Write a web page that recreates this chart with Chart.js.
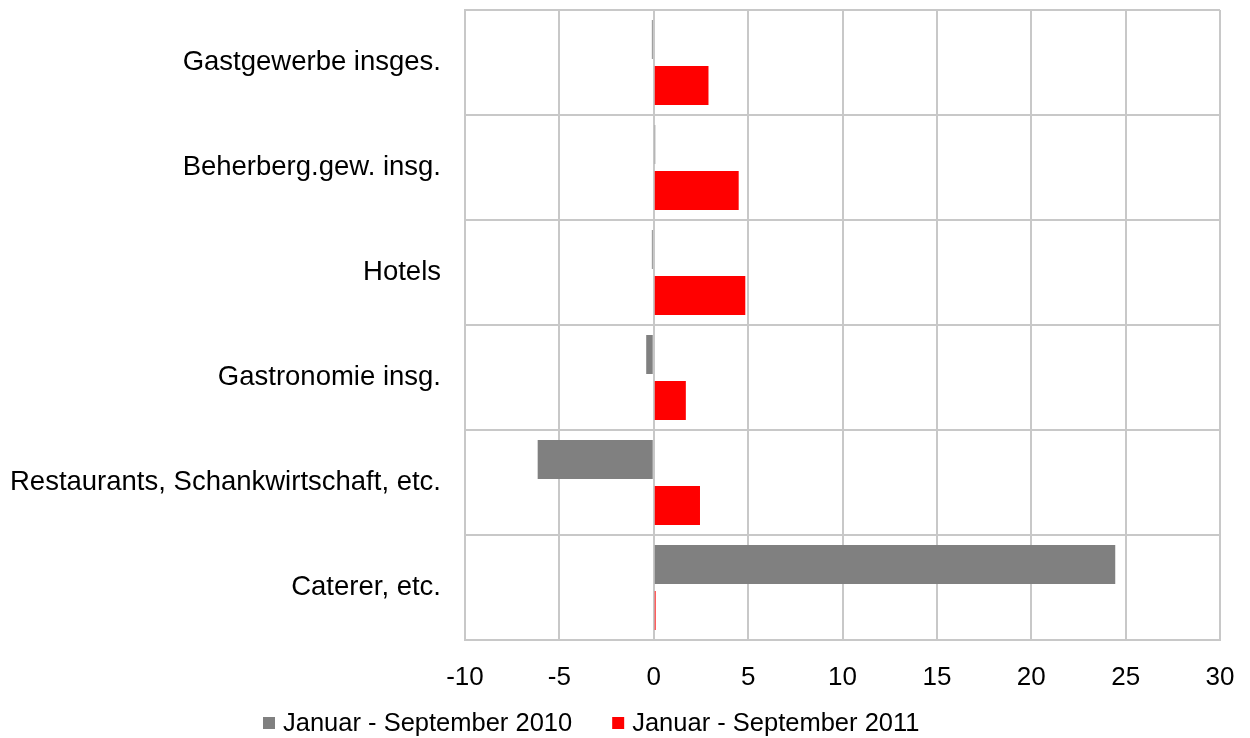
<!DOCTYPE html>
<html>
<head>
<meta charset="utf-8">
<script src="https://cdn.jsdelivr.net/npm/chart.js@4"></script>
<style>
    html, body { margin: 0; padding: 0; background: #fff; }
    #wrap { width: 1250px; height: 738px; }
</style>
</head>
<body>
<div id="wrap"><canvas id="chart" width="1250" height="738"></canvas></div>
<script>
const categories = [
    'Gastgewerbe insges.',
    'Beherberg.gew. insg.',
    'Hotels',
    'Gastronomie insg.',
    'Restaurants, Schankwirtschaft, etc.',
    'Caterer, etc.'
];
const seriesNames = ['Januar - September 2010', 'Januar - September 2011'];
const values2010 = [-0.1, 0.08, -0.1, -0.4, -6.15, 24.45];
const values2011 = [2.9, 4.5, 4.85, 1.7, 2.45, 0.1];
const xTicks = [-10, -5, 0, 5, 10, 15, 20, 25, 30];

const colors = ['#808080', '#ff0000'];
const gridColor = '#c8c8c8';
const fontFamily = '"Liberation Sans", Arial, sans-serif';

// Legend drawn by hand so the box/text spacing matches the original
const bottomLegend = {
    id: 'bottomLegend',
    afterDraw(chart) {
        const ctx = chart.ctx;
        ctx.save();
        ctx.font = '25.5px ' + fontFamily;
        ctx.textBaseline = 'middle';
        let x = 263;
        const y = 724;
        chart.data.datasets.forEach((ds) => {
            ctx.fillStyle = ds.backgroundColor;
            ctx.fillRect(x, y - 7, 12, 12);
            ctx.fillStyle = '#000';
            ctx.fillText(ds.label, x + 20, y);
            x += 20 + ctx.measureText(ds.label).width + 40;
        });
        ctx.restore();
    }
};

new Chart(document.getElementById('chart'), {
    type: 'bar',
    data: {
        labels: categories,
        datasets: [
            { label: seriesNames[0], data: values2010, backgroundColor: colors[0] },
            { label: seriesNames[1], data: values2011, backgroundColor: colors[1] }
        ]
    },
    options: {
        indexAxis: 'y',
        responsive: false,
        animation: false,
        categoryPercentage: 0.876,
        barPercentage: 0.848,
        layout: { padding: { top: 10, right: 30, bottom: 45, left: 0 } },
        plugins: {
            legend: { display: false },
            tooltip: { enabled: false }
        },
        scales: {
            x: {
                min: -10,
                max: 30,
                afterBuildTicks: (scale) => {
                    scale.ticks = xTicks.map(v => ({ value: v }));
                },
                afterFit: (scale) => {
                    scale.height = 53;
                    scale.paddingLeft = 0;
                    scale.paddingRight = 0;
                },
                grid: { color: gridColor, lineWidth: 2, drawTicks: false },
                border: { color: gridColor, width: 2 },
                ticks: {
                    padding: 22,
                    color: '#000',
                    font: { family: fontFamily, size: 26 }
                }
            },
            y: {
                afterFit: (scale) => {
                    scale.width = 465;
                    scale.paddingTop = 0;
                    scale.paddingBottom = 0;
                },
                grid: { color: gridColor, lineWidth: 2, drawTicks: false, offset: true },
                border: { color: gridColor, width: 2 },
                ticks: {
                    padding: 24,
                    color: '#000',
                    font: { family: fontFamily, size: 27.5 }
                }
            }
        }
    },
    plugins: [bottomLegend]
});
</script>
</body>
</html>
